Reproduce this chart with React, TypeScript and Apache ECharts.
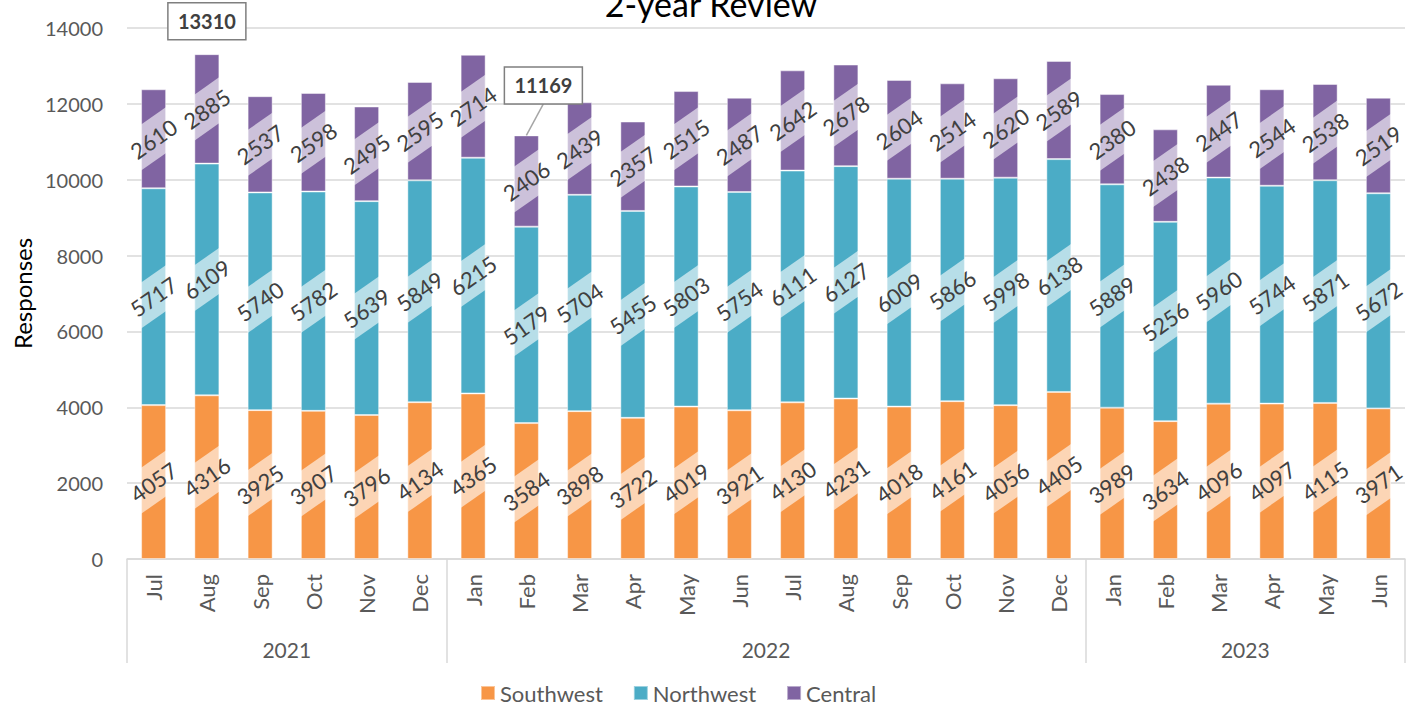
import React, { useEffect, useRef } from 'react';
import * as echarts from 'echarts';

// ---------- data ----------
const months = ['Jul', 'Aug', 'Sep', 'Oct', 'Nov', 'Dec', 'Jan', 'Feb', 'Mar', 'Apr', 'May', 'Jun', 'Jul', 'Aug', 'Sep', 'Oct', 'Nov', 'Dec', 'Jan', 'Feb', 'Mar', 'Apr', 'May', 'Jun'];
const years = ['2021', '2022', '2023'];
const yearSpans = [6, 12, 6];
const southwest = [4057, 4316, 3925, 3907, 3796, 4134, 4365, 3584, 3898, 3722, 4019, 3921, 4130, 4231, 4018, 4161, 4056, 4405, 3989, 3634, 4096, 4097, 4115, 3971];
const northwest = [5717, 6109, 5740, 5782, 5639, 5849, 6215, 5179, 5704, 5455, 5803, 5754, 6111, 6127, 6009, 5866, 5998, 6138, 5889, 5256, 5960, 5744, 5871, 5672];
const central = [2610, 2885, 2537, 2598, 2495, 2595, 2714, 2406, 2439, 2357, 2515, 2487, 2642, 2678, 2604, 2514, 2620, 2589, 2380, 2438, 2447, 2544, 2538, 2519];
const seriesNames = ['Southwest', 'Northwest', 'Central'];
const yMin = 0;
const yMax = 14000;
const yInterval = 2000;
const calloutIndices = [1, 7];

// ---------- styles ----------
const colors = ['#F79646', '#4BACC6', '#8064A2'];
const FONT = 'Lato';
const BAR_FRAC = 0.47;
const SLOPE = Math.tan((35 * Math.PI) / 180);
const BAND_HALF = 23;
const calloutOffsets = [
  { dx: 0, dy: -33, leader: false },
  { dx: 17, dy: -50, leader: true },
];

export default function App() {
  const ref = useRef<HTMLDivElement>(null);

  useEffect(() => {
    if (!ref.current) return;
    const chart = echarts.init(ref.current, null, { renderer: 'svg' });

    const allValues = [southwest, northwest, central];
    const bases = allValues.map((_, k) =>
      months.map((__, i) => {
        let s = 0;
        for (let j = 0; j < k; j++) s += allValues[j][i];
        return s;
      })
    );
    const totals = months.map((_, i) => southwest[i] + northwest[i] + central[i]);

    const boundaries: number[] = [0];
    yearSpans.forEach((n) => boundaries.push(boundaries[boundaries.length - 1] + n));
    const yearMids = yearSpans.map((n, k) => boundaries[k] + n / 2);

    const barSeries = seriesNames.map((name, k) => ({
      type: 'bar',
      name,
      stack: 'total',
      barWidth: BAR_FRAC * 100 + '%',
      xAxisIndex: 0,
      yAxisIndex: 0,
      itemStyle: { color: colors[k], borderColor: 'rgba(255,255,255,0.45)', borderWidth: 1 },
      data: allValues[k],
      z: 2,
    }));

    const labelSeries = seriesNames.map((name, k) => ({
      type: 'custom',
      name: name + ' labels',
      xAxisIndex: 0,
      yAxisIndex: 0,
      silent: true,
      clip: false,
      z: 5,
      data: allValues[k].map((v, i) => [i, bases[k][i], v]),
      encode: { x: 0, y: 1 },
      renderItem: (params: any, api: any) => {
        const i = api.value(0);
        const b = api.value(1);
        const v = api.value(2);
        const p0 = api.coord([i, b]);
        const p1 = api.coord([i, b + v]);
        const bw = api.size([1, 0])[0] * BAR_FRAC;
        const cx = p0[0];
        const cy = (p0[1] + p1[1]) / 2;
        const xl = cx - bw / 2;
        const xr = cx + bw / 2;
        const yl = cy + SLOPE * (bw / 2);
        const yr = cy - SLOPE * (bw / 2);
        return {
          type: 'group',
          children: [
            {
              type: 'polygon',
              shape: { points: [[xl, yl - BAND_HALF], [xr, yr - BAND_HALF], [xr, yr + BAND_HALF], [xl, yl + BAND_HALF]] },
              style: { fill: 'rgba(255,255,255,0.6)' },
            },
            {
              type: 'text',
              x: cx,
              y: cy,
              rotation: (35 * Math.PI) / 180,
              style: {
                text: String(v),
                fill: '#404040',
                fontSize: 22,
                fontFamily: FONT,
                align: 'center',
                verticalAlign: 'middle',
              },
            },
          ],
        };
      },
    }));

    const calloutSeries = {
      type: 'custom',
      name: 'Totals',
      xAxisIndex: 0,
      yAxisIndex: 0,
      silent: true,
      clip: false,
      z: 10,
      data: calloutIndices.map((i, n) => [i, totals[i], n]),
      encode: { x: 0, y: 1 },
      renderItem: (params: any, api: any) => {
        const i = api.value(0);
        const t = api.value(1);
        const n = api.value(2);
        const off = calloutOffsets[n];
        const p = api.coord([i, t]);
        const bx = p[0] + off.dx;
        const by = p[1] + off.dy;
        const w = 78;
        const h = 37;
        const children: any[] = [];
        if (off.leader) {
          children.push({
            type: 'line',
            shape: { x1: p[0], y1: p[1], x2: bx, y2: by + h / 2 },
            style: { stroke: '#a6a6a6', lineWidth: 1.5 },
          });
        }
        children.push({
          type: 'rect',
          shape: { x: bx - w / 2, y: by - h / 2, width: w, height: h },
          style: { fill: '#ffffff', stroke: '#7f7f7f', lineWidth: 1.5 },
        });
        children.push({
          type: 'text',
          x: bx,
          y: by,
          style: {
            text: String(t),
            fill: '#404040',
            fontSize: 20,
            fontWeight: 'bold',
            fontFamily: FONT,
            align: 'center',
            verticalAlign: 'middle',
          },
        });
        return { type: 'group', children };
      },
    };

    chart.setOption({
      animation: false,
      backgroundColor: '#ffffff',
      title: {
        text: '2-year Review',
        left: 706,
        textAlign: 'center',
        top: -19,
        textStyle: { fontSize: 34, fontFamily: FONT, color: '#000000', fontWeight: 'normal' },
      },
      legend: {
        data: seriesNames,
        left: 475,
        top: 677,
        icon: 'rect',
        itemWidth: 14,
        itemHeight: 14,
        itemGap: 30,
        textStyle: { fontSize: 22, fontFamily: FONT, color: '#595959' },
      },
      grid: { left: 127, right: 14, top: 28, bottom: 150, containLabel: false, outerBoundsMode: 'none' },
      xAxis: [
        {
          type: 'category',
          data: months,
          position: 'bottom',
          axisLine: { show: true, lineStyle: { color: '#d9d9d9', width: 1.5 } },
          axisTick: { show: false },
          axisLabel: { interval: 0, rotate: 90, margin: 15, fontSize: 22, fontFamily: FONT, color: '#595959' },
          splitLine: { show: false },
        },
        {
          type: 'value',
          min: 0,
          max: months.length,
          position: 'bottom',
          axisLine: { show: false },
          splitLine: { show: false },
          axisTick: { show: true, customValues: boundaries, length: 104, lineStyle: { color: '#d9d9d9', width: 1.5 } },
          axisLabel: {
            customValues: yearMids,
            margin: 80,
            fontSize: 21,
            fontFamily: FONT,
            color: '#595959',
            formatter: (v: number) => {
              const k = yearMids.indexOf(v);
              return k >= 0 ? years[k] : '';
            },
          },
        },
      ],
      yAxis: {
        type: 'value',
        min: yMin,
        max: yMax,
        interval: yInterval,
        name: 'Responses',
        nameLocation: 'middle',
        nameGap: 92,
        nameTextStyle: { fontSize: 24, fontFamily: FONT, color: '#000000' },
        axisLine: { show: false },
        axisTick: { show: false },
        axisLabel: { margin: 24, fontSize: 20, fontFamily: FONT, color: '#595959', formatter: (v: number) => String(v) },
        splitLine: { lineStyle: { color: '#d9d9d9', width: 1.5 } },
      },
      series: [...barSeries, ...labelSeries, calloutSeries],
    });

    return () => chart.dispose();
  }, []);

  return <div ref={ref} style={{ position: 'fixed', left: 0, top: 0, width: 1419, height: 709 }} />;
}
